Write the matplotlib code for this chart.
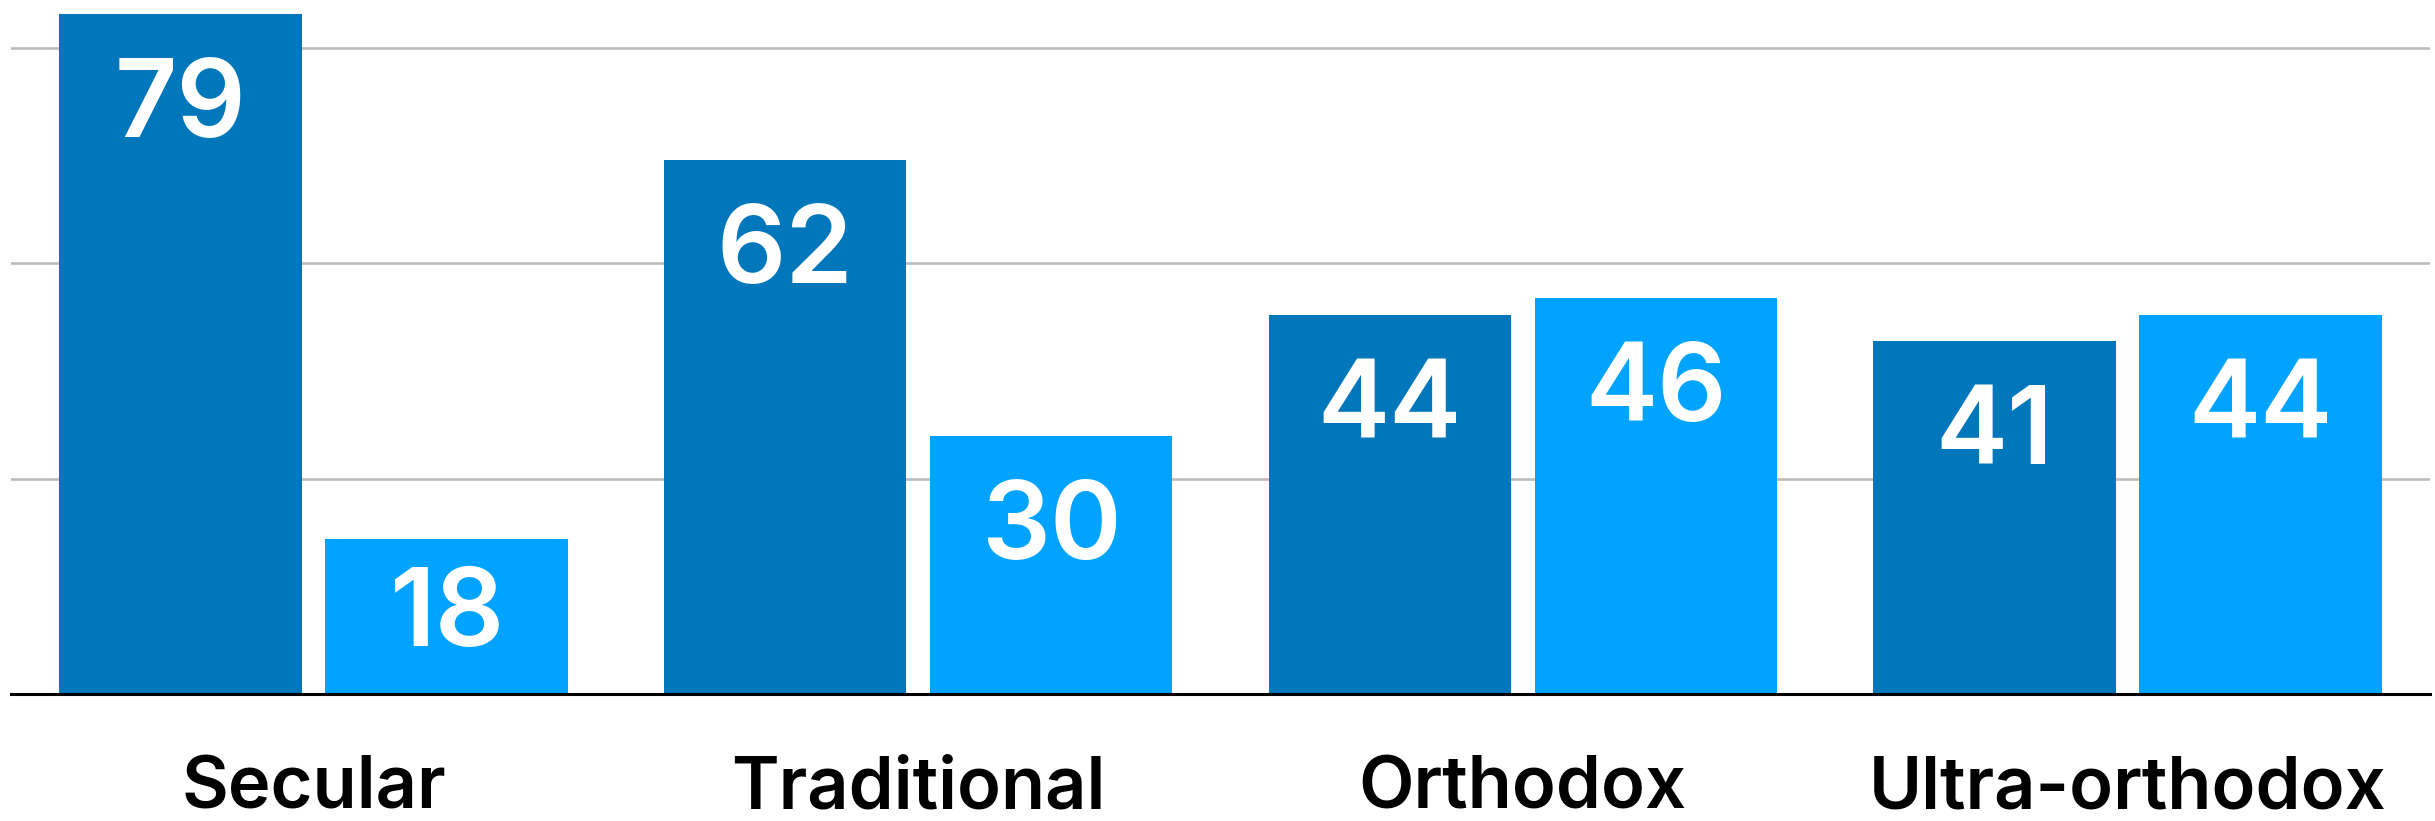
import numpy as np
import matplotlib
matplotlib.use("Agg")
import matplotlib.pyplot as plt

categories = ["Secular", "Traditional", "Orthodox", "Ultra-orthodox"]
series_a = [79, 62, 44, 41]
series_b = [18, 30, 46, 44]

dark = "#0077BB"
light = "#00A3FF"

plt.rcParams['font.family'] = ['Inter', 'DejaVu Sans']

fig = plt.figure(figsize=(24.35, 8.21), dpi=100)
ax = fig.add_axes([11 / 2435, 127 / 821, 2419 / 2435, 694 / 821])

x = np.arange(len(categories))
w = 0.401
off = 0.22
bars_a = ax.bar(x - off, series_a, width=w, color=dark, zorder=3)
bars_b = ax.bar(x + off, series_b, width=w, color=light, zorder=3)

# value labels inside the top of each bar, pushed up a bit for short bars
for bars, vals in [(bars_a, series_a), (bars_b, series_b)]:
    for b, v in zip(bars, vals):
        y = max(v - 14.3, 5.6)
        ax.text(b.get_x() + b.get_width() / 2, y, str(v), ha='center', va='baseline',
                color='white', fontsize=78, fontweight='semibold', zorder=4)

ax.set_xlim(-0.5, 3.5)
ax.set_ylim(0, 80.6)
ax.set_yticks([25, 50, 75])
ax.yaxis.grid(True, color='#BBBBBB', linewidth=1.9, zorder=0)
ax.tick_params(axis='y', left=False, labelleft=False)
ax.set_xticks(x)
ax.set_xticklabels(categories, fontsize=52, fontweight='semibold')
ax.tick_params(axis='x', length=0, pad=44)

for s in ['top', 'right', 'left']:
    ax.spines[s].set_visible(False)
ax.spines['bottom'].set_color('black')
ax.spines['bottom'].set_linewidth(2.2)
ax.spines['bottom'].set_zorder(5)

fig.savefig("out.png", dpi=100)
